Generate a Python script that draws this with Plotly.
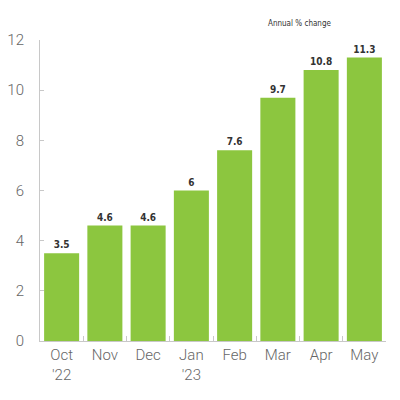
import plotly.graph_objects as go

months = ["Oct<br>'22", "Nov", "Dec", "Jan<br>'23", "Feb", "Mar", "Apr", "May"]
change = [3.5, 4.6, 4.6, 6, 7.6, 9.7, 10.8, 11.3]
change_text = ["3.5", "4.6", "4.6", "6", "7.6", "9.7", "10.8", "11.3"]
y_ticks = [0, 2, 4, 6, 8, 10, 12]

narrow = "DejaVu Sans Condensed, Roboto, sans-serif"

fig = go.Figure()
fig.add_trace(
    go.Bar(x=months, y=change, text=change_text, textposition="outside",
           marker_color="#8cc63f", marker_line_width=0, cliponaxis=False,
           textfont=dict(family=narrow, size=10, color="#333333", weight="bold"))
)

fig.update_xaxes(range=[-0.5, 7.5], automargin=False, showline=True, linecolor="#c8c8c8", linewidth=1,
                 ticks="inside", tickson="boundaries", ticklen=5, tickcolor="#c8c8c8",
                 tickfont=dict(family="Roboto", size=15, color="#666666", weight=300))
fig.update_yaxes(range=[0, 12], tickvals=y_ticks, automargin=False, showgrid=False, zeroline=False,
                 showline=True, linecolor="#c8c8c8", linewidth=1,
                 ticks="inside", ticklen=4, tickcolor="#c8c8c8", ticklabelstandoff=12,
                 tickfont=dict(family="Roboto", size=15, color="#666666", weight=300))

fig.add_annotation(text="Annual % change", xref="paper", yref="paper", x=0.751, y=1.056,
                   xanchor="center", yanchor="middle", showarrow=False,
                   font=dict(family=narrow, size=8, color="#333333"))

fig.update_layout(width=400, height=400, bargap=0.19, showlegend=False,
                  plot_bgcolor="white", paper_bgcolor="white",
                  margin=dict(l=32, r=22, t=32, b=67))

fig.write_html("out.html")
